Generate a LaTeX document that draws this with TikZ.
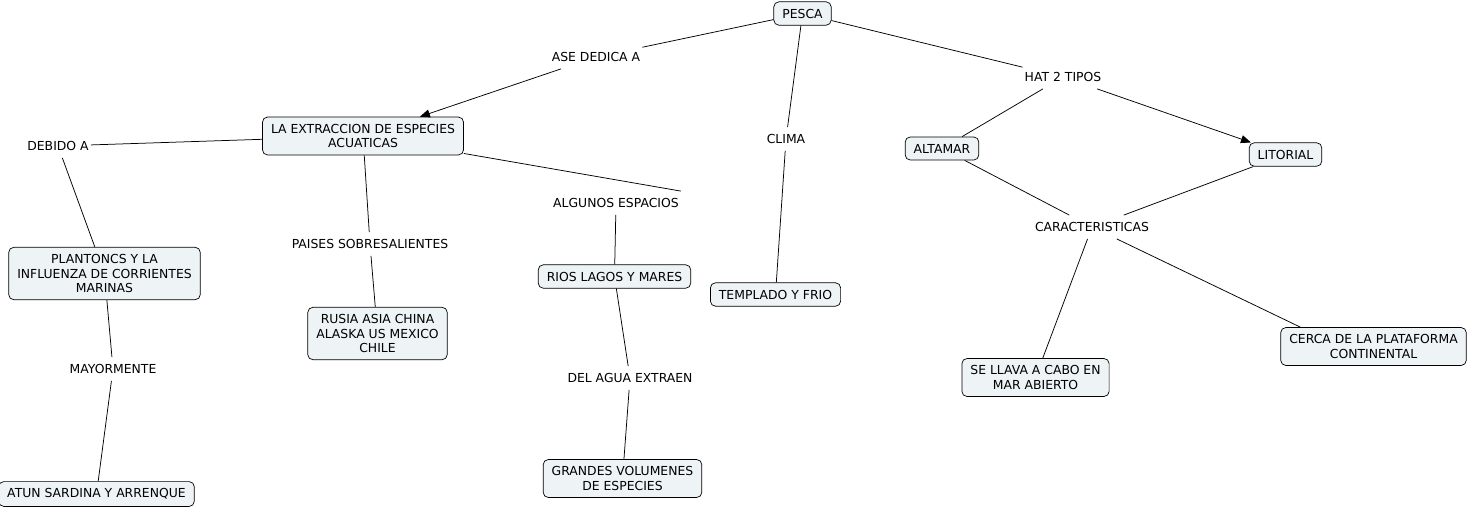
\documentclass[tikz,border=0pt]{standalone}
\usepackage{fontspec}
\setmainfont{DejaVu Sans}
\usetikzlibrary{arrows.meta}

\definecolor{boxfill}{RGB}{238,244,246}

\begin{document}
\begin{tikzpicture}[x=1pt, y=-1pt,
    every node/.style={font=\fontsize{12.4}{14.5}\selectfont, align=center},
    concept/.style={draw=black, fill=boxfill, rounded corners=5pt, inner xsep=8.5pt, inner ysep=7pt, line width=0.7pt},
    linking/.style={inner xsep=2pt, inner ysep=7pt},
    link/.style={line width=0.75pt},
    arrow/.style={link, -{Triangle[length=10pt, width=8pt]}}
]
\useasboundingbox (0,0) rectangle (1467,509);

% Nodes
\node[concept] (pesca) at (802.5, 13.5) {PESCA};
\node[concept] (extraccion) at (363, 136) {LA EXTRACCION DE ESPECIES\\ACUATICAS};
\node[concept] (plantoncs) at (104.5, 273.5) {PLANTONCS Y LA\\INFLUENZA DE CORRIENTES\\MARINAS};
\node[concept] (atun) at (96.5, 494) {ATUN SARDINA Y ARRENQUE};
\node[concept] (rusia) at (377.5, 333.5) {RUSIA ASIA CHINA\\ALASKA US MEXICO\\CHILE};
\node[concept] (rios) at (614.5, 276.5) {RIOS LAGOS Y MARES};
\node[concept] (grandes) at (622.5, 478.5) {GRANDES VOLUMENES\\DE ESPECIES};
\node[concept] (templado) at (775.5, 294.5) {TEMPLADO Y FRIO};
\node[concept] (altamar) at (942, 148.5) {ALTAMAR};
\node[concept] (litorial) at (1285.5, 154.5) {LITORIAL};
\node[concept] (llava) at (1035.5, 377.5) {SE LLAVA A CABO EN\\MAR ABIERTO};
\node[concept] (cerca) at (1373.5, 346.5) {CERCA DE LA PLATAFORMA\\CONTINENTAL};
\coordinate (cercaend) at ([xshift=-73pt]cerca.north);

% Linking phrases
\node[linking] (dedica) at (596, 57) {ASE DEDICA A};
\node[linking] (debido) at (58, 146) {DEBIDO A};
\node[linking] (paises) at (370, 244) {PAISES SOBRESALIENTES};
\node[linking] (espacios) at (616, 203) {ALGUNOS ESPACIOS};
\node[linking] (mayormente) at (113, 369) {MAYORMENTE};
\node[linking] (agua) at (630, 378) {DEL AGUA EXTRAEN};
\node[linking] (clima) at (786, 139) {CLIMA};
\node[linking] (tipos) at (1063, 77) {HAT 2 TIPOS};
\node[linking] (caract) at (1092, 227) {CARACTERISTICAS};

% Connections
\draw[link] (pesca) -- (dedica);
\draw[arrow] (dedica) -- (extraccion);
\draw[link] (pesca) -- (clima);
\draw[link] (clima) -- (templado);
\draw[link] (pesca) -- (tipos);
\draw[link] (tipos) -- (altamar);
\draw[arrow] (tipos) -- (litorial);

\draw[link] (extraccion) -- (debido);
\draw[link] (debido) -- (plantoncs);
\draw[link] (plantoncs) -- (mayormente);
\draw[link] (mayormente) -- (atun);
\draw[link] (extraccion) -- (paises);
\draw[link] (paises) -- (rusia);
\draw[link] (extraccion) -- (espacios.north east);
\draw[link] (espacios) -- (rios);
\draw[link] (rios) -- (agua);
\draw[link] (agua) -- (grandes);

\draw[link] (altamar) -- (caract);
\draw[link] (litorial) -- (caract);
\draw[link] (caract) -- (llava);
\draw[link] (caract) -- (cercaend);
\end{tikzpicture}
\end{document}
